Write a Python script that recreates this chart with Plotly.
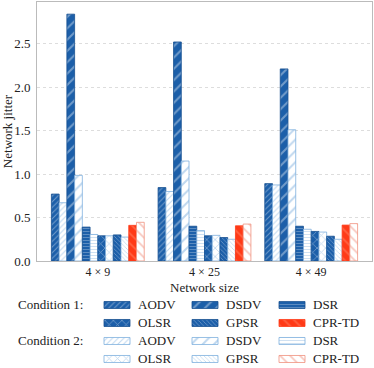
import plotly.graph_objects as go

# data
sizes = ['4 × 9', '4 × 25', '4 × 49']
protocols = ['AODV', 'DSDV', 'DSR', 'OLSR', 'GPSR', 'CPR-TD']
cond1 = {
    'AODV': [0.77, 0.845, 0.89],
    'DSDV': [2.84, 2.52, 2.21],
    'DSR': [0.39, 0.40, 0.40],
    'OLSR': [0.29, 0.29, 0.34],
    'GPSR': [0.30, 0.27, 0.285],
    'CPR-TD': [0.41, 0.405, 0.413],
}
cond2 = {
    'AODV': [0.67, 0.80, 0.875],
    'DSDV': [0.985, 1.15, 1.51],
    'DSR': [0.305, 0.35, 0.365],
    'OLSR': [0.29, 0.295, 0.333],
    'GPSR': [0.275, 0.25, 0.25],
    'CPR-TD': [0.445, 0.425, 0.43],
}
y_ticks = [0.0, 0.5, 1.0, 1.5, 2.0, 2.5]

BLUE = '#1c5fa9'
LIGHT = '#7fb0de'
RED = '#ff3a17'
SALMON = '#f0907e'
FONT = 'Liberation Serif, DejaVu Serif, serif'
FS = 13

# hatch per protocol: (shape, size)
hatch = {
    'AODV': ('/', 4),
    'DSDV': ('/', 8),
    'DSR': ('-', 3),
    'OLSR': ('x', 6),
    'GPSR': ('\\', 3),
    'CPR-TD': ('\\', 7),
}


def style(proto, cond):
    shape, size = hatch[proto]
    red = proto == 'CPR-TD'
    if cond == 1:
        bg = RED if red else BLUE
        fg = '#ff8b6e' if red else 'rgba(255,255,255,0.75)'
        line = RED if red else '#174f8f'
    else:
        bg = 'white'
        fg = SALMON if red else LIGHT
        line = fg
    return dict(color=bg, line=dict(color=line, width=0.8),
                pattern=dict(shape=shape, size=size, solidity=0.25,
                             fgcolor=fg, bgcolor=bg))


fig = go.Figure()

for proto in protocols:
    for cond, vals in ((1, cond1), (2, cond2)):
        fig.add_trace(go.Bar(x=sizes, y=vals[proto], marker=style(proto, cond),
                             showlegend=False, xaxis='x', yaxis='y'))

# custom legend drawn in a hidden helper axis (pixel-like units)
row_y = [305, 323, 341, 359]
col_x = [104, 192, 279]
sw_w, sw_h = 26, 7
for i, proto in enumerate(protocols):
    r, c = divmod(i, 3)
    for cond in (1, 2):
        ry = row_y[r + 2 * (cond - 1)]
        fig.add_trace(go.Bar(orientation='h', y=[ry], x=[sw_w], base=[col_x[c]],
                             width=sw_h, offset=-sw_h / 2, marker=style(proto, cond),
                             showlegend=False, xaxis='x2', yaxis='y2',
                             hoverinfo='skip'))
        fig.add_annotation(x=col_x[c] + sw_w + 6, y=ry, xref='x2', yref='y2',
                           text=proto, showarrow=False, xanchor='left',
                           font=dict(size=FS, color='#222'))
for k, lab in enumerate(['Condition 1:', 'Condition 2:']):
    fig.add_annotation(x=(16 - 37) / 335, y=row_y[2 * k], xref='paper', yref='y2',
                       text=lab, showarrow=False, xanchor='left',
                       font=dict(size=FS, color='#222'))

fig.add_annotation(x=0.5, y=288, xref='x2 domain', yref='y2', text='Network size',
                   showarrow=False, font=dict(size=FS, color='#222'))

fig.update_layout(
    width=374, height=368,
    margin=dict(l=37, r=2, t=2, b=2),
    paper_bgcolor='white', plot_bgcolor='white',
    barmode='group', bargap=0.13, bargroupgap=0,
    font=dict(family=FONT, size=FS, color='#222'),
    xaxis=dict(domain=[0, 1], range=[-0.57, 2.57], showgrid=False,
               showline=True, linecolor='#bbb', mirror=True, automargin=False,
               ticks='', tickfont=dict(size=12), anchor='y'),
    yaxis=dict(domain=[0.2885, 1], range=[0, 2.98], tickvals=y_ticks,
               ticktext=['%.1f' % v for v in y_ticks], automargin=False,
               showgrid=True, gridcolor='#ddd', griddash='dot', gridwidth=1,
               showline=True, linecolor='#bbb', mirror=True, zeroline=False,
               ticks='', tickfont=dict(size=FS), ticklabelstandoff=3,
               title=dict(text='Network jitter', standoff=4, font=dict(size=FS)),
               anchor='x'),
    xaxis2=dict(domain=[0, 1], range=[37, 372], visible=False, anchor='y2'),
    yaxis2=dict(domain=[0, 0.2885], range=[366, 261], visible=False, anchor='x2'),
)

# drop the default body margin so the figure sits at the page corner
fig.write_html('out.html', config={'displayModeBar': False},
               post_script="document.body.style.margin='0';")
